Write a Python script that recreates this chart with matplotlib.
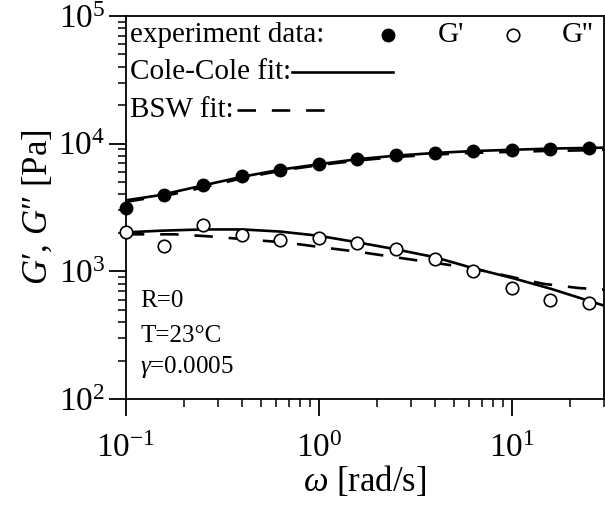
import numpy as np
import matplotlib.pyplot as plt
from matplotlib.ticker import LogLocator, NullFormatter

plt.rcParams['font.family'] = ['Liberation Serif', 'DejaVu Serif']
plt.rcParams['mathtext.fontset'] = 'custom'
plt.rcParams['mathtext.rm'] = 'Liberation Serif'
plt.rcParams['mathtext.it'] = 'Liberation Serif:italic'
plt.rcParams['axes.unicode_minus'] = False

# ---------------------------------------------------------------------------
# Data
# ---------------------------------------------------------------------------
omega = [0.1, 0.158, 0.251, 0.398, 0.631, 1.0, 1.58, 2.51, 3.98, 6.31, 10.0, 15.8, 25.1]
G1_exp = [3130, 3980, 4750, 5620, 6240, 6870, 7620, 8090, 8490, 8700, 8850, 9130, 9250]
G2_exp = [2040, 1580, 2300, 1920, 1760, 1840, 1660, 1490, 1240, 1000, 740, 600, 570]

# Cole-Cole fit
cc_omega = [0.1, 0.15, 0.25, 0.4, 0.63, 1.0, 1.58, 2.5, 4.0, 6.3, 10.0, 16.0, 30.0]
cc_G1 = [3600, 3950, 4700, 5500, 6250, 6900, 7550, 8050, 8450, 8750, 8950, 9150, 9300]
cc_G2 = [2020, 2080, 2130, 2130, 2050, 1900, 1690, 1490, 1290, 1060, 890, 730, 540]

# BSW fit
bsw_omega = [0.1, 0.18, 0.27, 0.42, 0.68, 1.05, 1.62, 2.5, 3.9, 6.0, 14.5, 22.4, 30.0]
bsw_G1 = [3500, 4050, 4650, 5450, 6250, 6850, 7400, 7850, 8200, 8450, 8750, 8850, 8950]
bsw_G2 = [1950, 1950, 1880, 1780, 1680, 1540, 1420, 1290, 1170, 1070, 800, 740, 720]

# ---------------------------------------------------------------------------
fig = plt.figure(figsize=(6.05, 5.13), dpi=100)
ax = fig.add_axes([0.208, 0.222, 0.79, 0.747])

dash = (0, (7, 6))
ax.plot(cc_omega, cc_G1, color='black', lw=1.9)
ax.plot(cc_omega, cc_G2, color='black', lw=1.9)
ax.plot(bsw_omega, bsw_G1, color='black', lw=1.9, ls=dash)
ax.plot(bsw_omega, bsw_G2, color='black', lw=1.9, ls=dash)
ax.plot(omega, G1_exp, 'o', color='black', ms=9, clip_on=False, zorder=5)
ax.plot(omega, G2_exp, 'o', mfc='white', mec='black', mew=1.2, ms=9,
        clip_on=False, zorder=5)

ax.set_xscale('log')
ax.set_yscale('log')
ax.set_xlim(0.1, 30)
ax.set_ylim(100, 1e5)

ax.xaxis.set_major_locator(LogLocator(base=10, numticks=10))
ax.yaxis.set_major_locator(LogLocator(base=10, numticks=10))
ax.xaxis.set_minor_locator(LogLocator(base=10, subs=np.arange(2, 10), numticks=20))
ax.yaxis.set_minor_locator(LogLocator(base=10, subs=np.arange(2, 10), numticks=20))
ax.xaxis.set_minor_formatter(NullFormatter())
ax.yaxis.set_minor_formatter(NullFormatter())
ax.tick_params(which='major', direction='out', length=12, width=1.3, labelsize=24)
ax.tick_params(which='minor', direction='out', length=6, width=1.1)
ax.tick_params(axis='x', which='major', pad=13)
ax.tick_params(axis='y', which='major', pad=3)
for s in ax.spines.values():
    s.set_linewidth(1.3)

ax.set_xlabel(r'$\omega$ [rad/s]', fontsize=25, labelpad=0)
ax.set_ylabel(r'$G$′, $G$″ [Pa]', fontsize=25, labelpad=2)

# Legend drawn by hand (rows of text with samples)
tr = ax.transAxes
fs = 21
ax.text(0.009, 0.95, 'experiment data:', transform=tr, fontsize=fs, va='center')
ax.plot([0.548], [0.95], 'o', color='black', ms=9, transform=tr)
ax.text(0.68, 0.95, "G'", transform=tr, fontsize=fs, va='center', ha='center')
ax.plot([0.81], [0.95], 'o', mfc='white', mec='black', mew=1.2, ms=9, transform=tr)
ax.text(0.945, 0.95, "G''", transform=tr, fontsize=fs, va='center', ha='center')

ax.text(0.009, 0.853, 'Cole-Cole fit:', transform=tr, fontsize=fs, va='center')
ax.plot([0.348, 0.56], [0.853, 0.853], color='black', lw=1.9, transform=tr)

ax.text(0.009, 0.755, 'BSW fit:', transform=tr, fontsize=fs, va='center')
ax.plot([0.232, 0.432], [0.755, 0.755], color='black', lw=1.9, ls=dash, transform=tr)

# Condition annotations
ax.text(0.03, 0.255, 'R=0', transform=tr, fontsize=18, va='center')
ax.text(0.03, 0.165, 'T=23°C', transform=tr, fontsize=18, va='center')
ax.text(0.03, 0.083, r'$\gamma$=0.0005', transform=tr, fontsize=18, va='center')

fig.savefig('out.png', dpi=100)
